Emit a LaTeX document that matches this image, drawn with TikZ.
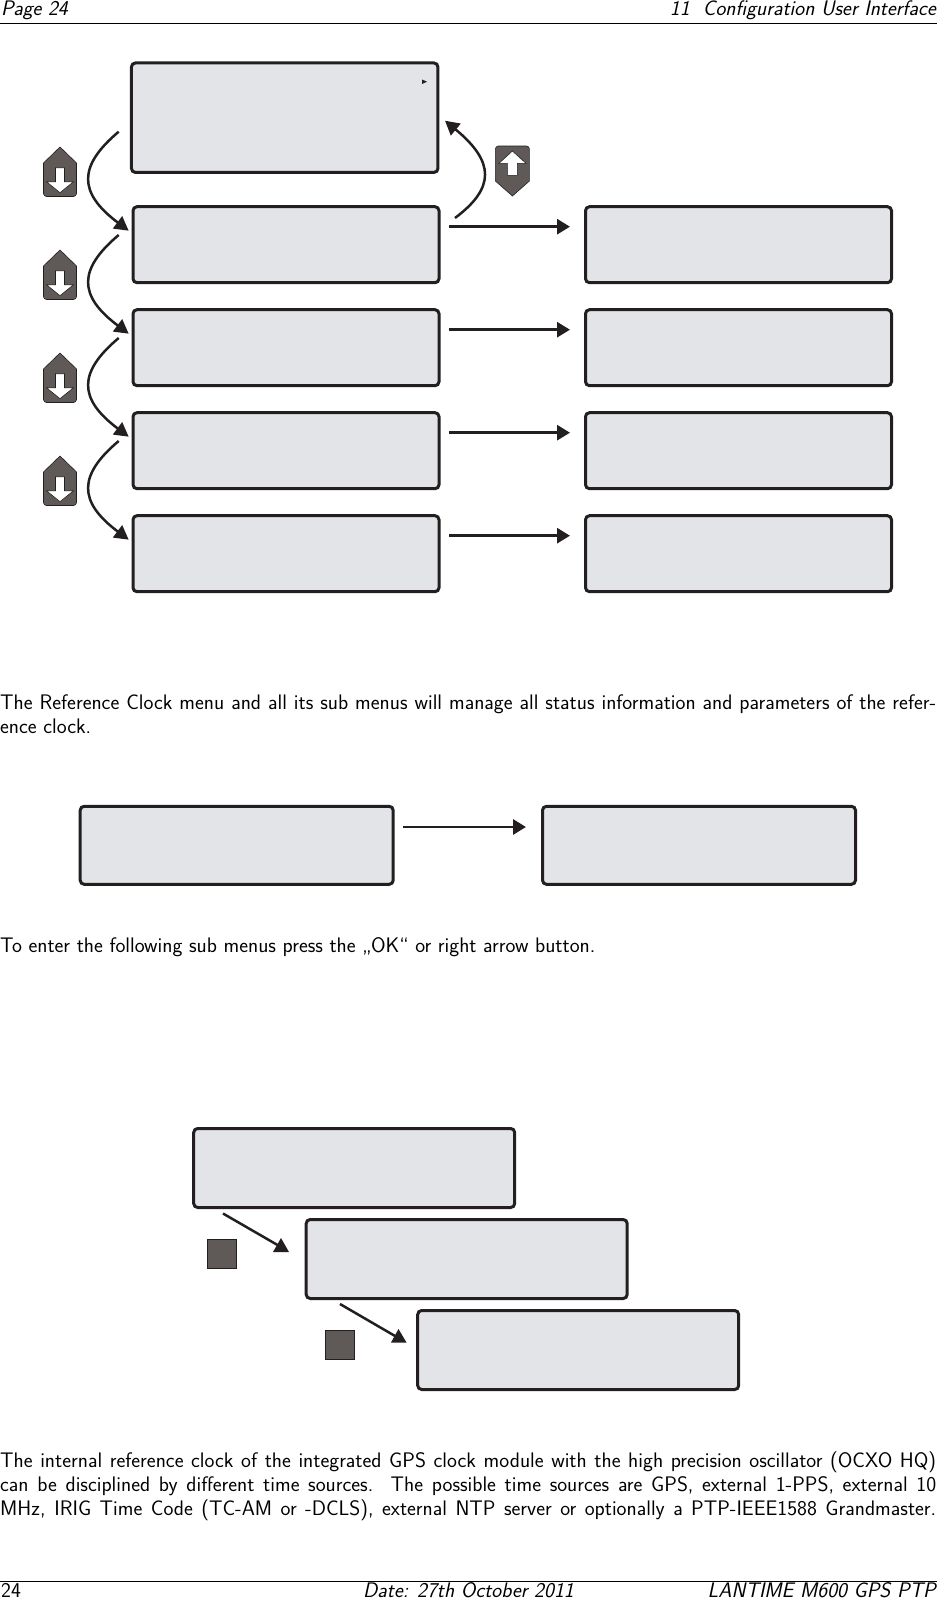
\documentclass[tikz,border=0pt]{standalone}
\usetikzlibrary{arrows.meta}
\definecolor{ink}{HTML}{231F20}
\definecolor{lcdfill}{HTML}{E2E4E8}
\definecolor{btn}{HTML}{5F5A58}
\tikzset{
  lcd/.style={draw=ink,fill=lcdfill,line width=3pt,rounded corners=4pt,inner sep=0pt},
  lcdA/.style={lcd,minimum width=306pt,minimum height=76pt},
  lcdB/.style={lcd,minimum width=313pt,minimum height=78pt},
  lcdC/.style={lcd,minimum width=321pt,minimum height=79pt},
  conn/.style={draw=ink,line width=2.9pt,-{Triangle[length=13pt,width=15pt]}},
  curve/.style={draw=ink,line width=2.5pt,-{Triangle[length=14pt,width=15pt]}},
  diag/.style={draw=ink,line width=2.5pt},
  body/.style={anchor=base west,inner sep=0pt,font=\fontsize{21.05}{24}\selectfont\sffamily,text=black},
  bodyR/.style={anchor=base east,inner sep=0pt,font=\fontsize{21.05}{24}\selectfont\sffamily\slshape,text=black},
  btnshape/.style={fill=btn,draw=ink,line width=0.6pt},
  btnarrow/.style={fill=white,draw=ink,line width=0.6pt,line join=miter},
}
\newcommand{\spreadline}[1]{\makebox[936pt][s]{#1}}
\begin{document}
\begin{tikzpicture}[x=1pt,y=-1pt]
\useasboundingbox (0,0) rectangle (937,1598);
% header and footer
\node[body,font=\fontsize{21.05}{24}\selectfont\sffamily\slshape] (hl) at (1,16) {Page 24};
\node[bodyR] (hr) at (936,16) {11\ \ Configuration User Interface};
\coordinate (hr0) at (0,23.3); \coordinate (hr1) at (937,23.3);
\draw[line width=0.8pt] (hr0) -- (hr1);
\coordinate (fr0) at (0,1581); \coordinate (fr1) at (937,1581);
\draw[line width=0.8pt] (fr0) -- (fr1);
\node[body] (fl) at (1,1597) {24};
\node[body,font=\fontsize{21.05}{24}\selectfont\sffamily\slshape] (fm) at (363,1597) {Date: 27th October 2011};
\node[bodyR] (fe) at (936,1597) {LANTIME M600 GPS PTP};
% top group boxes
\node[lcdA,minimum width=306.5pt,minimum height=109.5pt] (top) at (284.7,117.7) {};
\foreach \n/\y in {1/244.7,2/347.7,3/450.7,4/553.7}{
  \node[lcdA] (L\n) at (286,\y) {};
  \node[lcdA] (R\n) at (738.5,\y) {};
  \coordinate (rs\n) at (449,\y-18);
  \coordinate (re\n) at (570,\y-18);
  \draw[conn] (rs\n) -- (re\n);
}
\fill[ink] (422,79.5) -- (427,81.7) -- (422,84) -- cycle;
% down buttons and curved connectors
\foreach \i/\dy in {0/0,1/103,2/206,3/309}{
  \begin{scope}[yshift=-\dy pt]
    \path[btnshape] (43.5,163) -- (60,147) -- (76.5,163) -- (76.5,193) [rounded corners=3pt] -- (76.5,196.5) -- (43.5,196.5) [sharp corners] -- (43.5,193) -- cycle;
    \path[btnarrow] (55.5,167.7) -- (64.5,167.7) -- (64.5,181.7) -- (73.5,181.7) -- (60,192.7) -- (46.5,181.7) -- (55.5,181.7) -- cycle;
  \end{scope}
}
\coordinate (cs0) at (118.7,131.7);  \coordinate (ct0) at (128.7,230.7);
\coordinate (cs1) at (118.7,235);    \coordinate (ct1) at (128.7,333.7);
\coordinate (cs2) at (118.7,338);    \coordinate (ct2) at (128.7,436.7);
\coordinate (cs3) at (118.7,441);    \coordinate (ct3) at (128.7,539.7);
\draw[curve] (cs0) .. controls (78,166) and (78,192.7) .. (ct0);
\draw[curve] (cs1) .. controls (78,269.3) and (78,295.7) .. (ct1);
\draw[curve] (cs2) .. controls (78,372.3) and (78,398.7) .. (ct2);
\draw[curve] (cs3) .. controls (78,475.3) and (78,501.7) .. (ct3);
% up button and connector
\path[btnshape] (495.4,181) -- (512.4,196) -- (529.4,181) -- (529.4,150) [rounded corners=3pt] -- (529.4,146) -- (495.4,146) [sharp corners] -- (495.4,150) -- cycle;
\path[btnarrow] (507.4,175.3) -- (517.4,175.3) -- (517.4,163.3) -- (526,163.3) -- (512.4,151) -- (499,163.3) -- (507.4,163.3) -- cycle;
\coordinate (us) at (455,218); \coordinate (ut) at (445,120.7);
\draw[curve] (us) .. controls (495,188) and (495,162) .. (ut);
% body text 1
\node[body] (t1) at (0,709.3) {\spreadline{The Reference Clock menu and all its sub menus will manage all status information and parameters of the refer-}};
\node[body] (t2) at (0,733.3) {ence clock.};
% middle pair
\node[lcdB] (M1) at (236.7,845.3) {};
\node[lcdB] (M2) at (699,845.3) {};
\coordinate (ms) at (403,827); \coordinate (me) at (526,827);
\draw[conn] (ms) -- (me);
\node[body] (t3) at (0,952) {To enter the following sub menus press the „OK“ or right arrow button.};
% stair of boxes
\node[lcdC] (S1) at (354.2,1168) {};
\node[lcdC] (S2) at (466.7,1259) {};
\node[lcdC] (S3) at (578.2,1350) {};
\node[btnshape,rectangle,minimum width=29pt,minimum height=29.5pt,inner sep=0pt] (B1) at (222,1254) {};
\node[btnshape,rectangle,minimum width=29pt,minimum height=29pt,inner sep=0pt] (B2) at (339.5,1344.5) {};
\coordinate (d1s) at (223,1213.5); \coordinate (d1e) at (281,1247);
\draw[diag] (d1s) -- (d1e);
\fill[ink] (273,1252) -- (289,1252) -- (281,1238) -- cycle;
\coordinate (d2s) at (340,1304); \coordinate (d2e) at (398.5,1338);
\draw[diag] (d2s) -- (d2e);
\fill[ink] (391,1342.5) -- (406.5,1342.5) -- (398.5,1329) -- cycle;
% body text 2
\node[body] (t4) at (0,1467) {\spreadline{The internal reference clock of the integrated GPS clock module with the high precision oscillator (OCXO HQ)}};
\node[body] (t5) at (0,1491) {\spreadline{can be disciplined by different time sources.\ \ The possible time sources are GPS, external 1-PPS, external 10}};
\node[body] (t6) at (0,1515) {\spreadline{MHz, IRIG Time Code (TC-AM or -DCLS), external NTP server or optionally a PTP-IEEE1588 Grandmaster.}};
\end{tikzpicture}
\end{document}
